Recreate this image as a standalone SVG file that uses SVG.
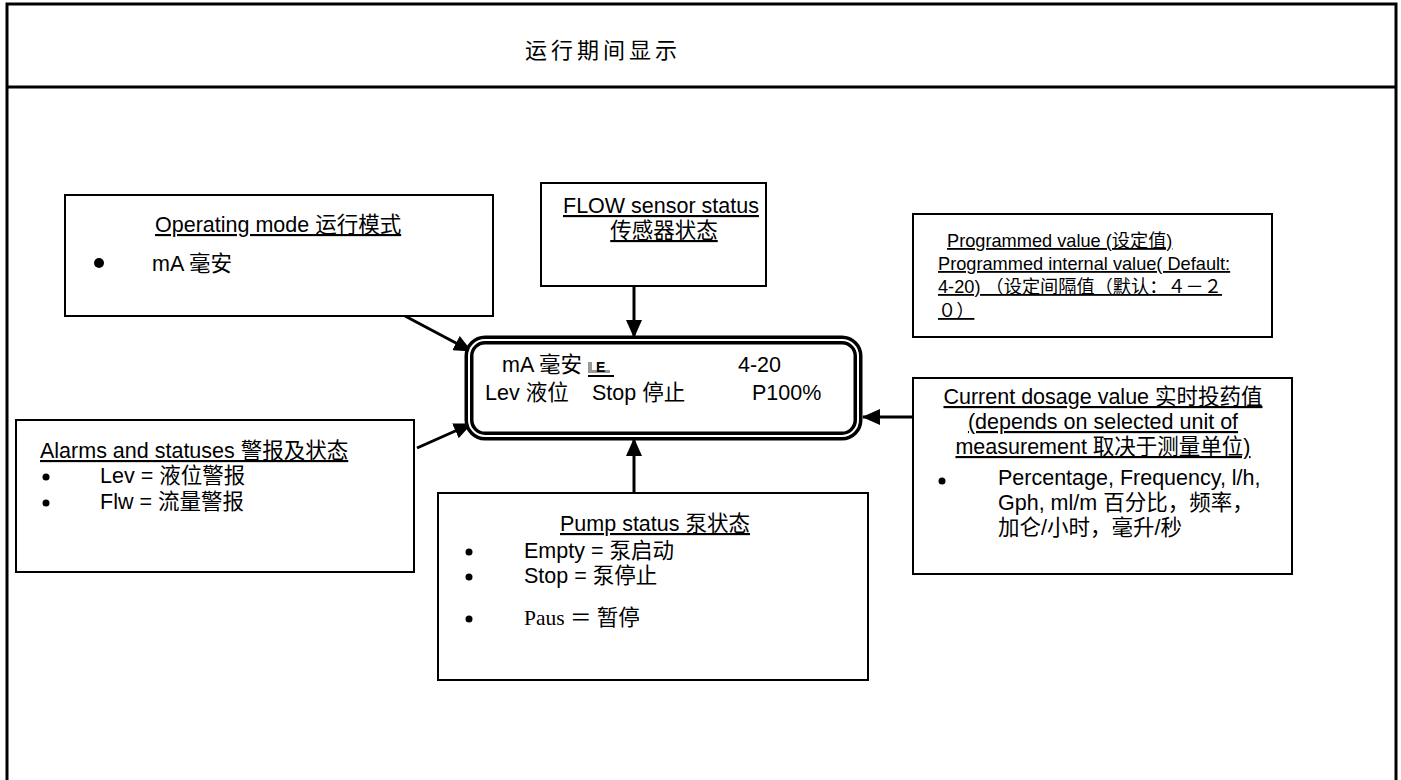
<svg xmlns="http://www.w3.org/2000/svg" width="1401" height="780" viewBox="0 0 1401 780">
<style>
  .t { font-family: "Liberation Sans", "Noto Sans CJK SC", sans-serif; font-size: 21.5px; fill: #000; }
  .s { font-family: "Liberation Sans", "Noto Sans CJK SC", sans-serif; font-size: 18.2px; fill: #000; }
  .serif { font-family: "Liberation Serif", "Noto Sans CJK SC", serif; font-size: 21.5px; fill: #000; }
  .u { text-decoration: underline; }
  .box { fill: #fff; stroke: #000; stroke-width: 2; }
  .conn { stroke: #000; stroke-width: 3; fill: none; marker-end: url(#ah); }
</style>
<defs>
  <marker id="ah" markerUnits="userSpaceOnUse" markerWidth="18" markerHeight="16" viewBox="0 0 18 16" refX="17" refY="8" orient="auto">
    <path d="M0,0 L18,8 L0,16 Z" fill="#000"/>
  </marker>
</defs>
<rect width="1401" height="780" fill="#fff"/>
<g id="frame">
  <path d="M7,800 L7,4 L1396,4 L1396,800" fill="none" stroke="#000" stroke-width="3"/>
  <line x1="7" y1="87" x2="1396" y2="87" stroke="#000" stroke-width="3"/>
  <text x="525" y="58" font-family="Noto Sans CJK SC, sans-serif" font-size="22" letter-spacing="4">运行期间显示</text>
</g>
<g id="connectors">
  <line class="conn" x1="405" y1="316" x2="471" y2="351"/>
  <line class="conn" x1="634" y1="286" x2="634" y2="337"/>
  <line class="conn" x1="417" y1="448" x2="471" y2="424"/>
  <line class="conn" x1="634" y1="493" x2="634" y2="439"/>
  <line class="conn" x1="920" y1="417" x2="863" y2="417"/>
</g>
<g id="operating-mode">
  <rect class="box" x="65" y="195" width="428" height="121"/>
  <text class="t u" x="155" y="232">Operating mode 运行模式</text>
  <circle cx="99" cy="263" r="5"/>
  <text class="t" x="152" y="271">mA 毫安</text>
</g>
<g id="flow-sensor">
  <rect class="box" x="541" y="183" width="225" height="103"/>
  <text class="t u" x="661" y="213" text-anchor="middle" font-size="21">FLOW sensor status</text>
  <text class="t u" x="664" y="238" text-anchor="middle" font-size="21">传感器状态</text>
</g>
<g id="programmed-value">
  <rect class="box" x="913" y="214" width="359" height="123"/>
  <text class="s u" x="947" y="247">Programmed value (设定值)</text>
  <text class="s u" x="938" y="270">Programmed internal value( Default:</text>
  <text class="s u" x="938" y="293">4-20) （设定间隔值（默认：４－２</text>
  <text class="s u" x="938" y="317">０）</text>
</g>
<g id="display">
  <rect x="469" y="340" width="389" height="96" rx="16" fill="#fff" stroke="#000" stroke-width="9"/>
  <rect x="469" y="340" width="389" height="96" rx="16" fill="none" stroke="#fff" stroke-width="2"/>
  <text class="t" x="502" y="372">mA 毫安</text>
  <rect x="588" y="362" width="4" height="11" fill="#999"/>
  <rect x="588" y="370" width="22" height="3" fill="#999"/>
  <text x="596" y="372" font-family="Liberation Sans, sans-serif" font-size="14" font-weight="bold">E</text>
  <line x1="588" y1="376" x2="614" y2="376" stroke="#000" stroke-width="2"/>
  <text class="t" x="738" y="372">4-20</text>
  <text class="t" x="485" y="400">Lev 液位</text>
  <text class="t" x="592" y="400">Stop 停止</text>
  <text class="t" x="752" y="400">P100%</text>
</g>
<g id="alarms">
  <rect class="box" x="16" y="420" width="398" height="152"/>
  <text class="t u" x="40" y="458">Alarms and statuses 警报及状态</text>
  <circle cx="46" cy="477" r="3.5"/>
  <text class="t" x="100" y="483">Lev = 液位警报</text>
  <circle cx="46" cy="503" r="3.5"/>
  <text class="t" x="100" y="509">Flw = 流量警报</text>
</g>
<g id="pump-status">
  <rect class="box" x="438" y="493" width="430" height="187"/>
  <text class="t u" x="655" y="531" text-anchor="middle">Pump status 泵状态</text>
  <circle cx="469" cy="552" r="3.5"/>
  <text class="t" x="524" y="558">Empty = 泵启动</text>
  <circle cx="469" cy="577" r="3.5"/>
  <text class="t" x="524" y="583">Stop = 泵停止</text>
  <circle cx="469" cy="619" r="3.5"/>
  <text class="serif" x="524" y="625">Paus ＝ 暂停</text>
</g>
<g id="dosage">
  <rect class="box" x="913" y="378" width="379" height="196"/>
  <text class="t u" x="1103" y="404" text-anchor="middle">Current dosage value 实时投药值</text>
  <text class="t u" x="1103" y="429" text-anchor="middle">(depends on selected unit of</text>
  <text class="t u" x="1103" y="454" text-anchor="middle">measurement 取决于测量单位)</text>
  <circle cx="942" cy="481" r="3.5"/>
  <text class="t" x="998" y="485">Percentage, Frequency, l/h,</text>
  <text class="t" x="998" y="510">Gph, ml/m 百分比，频率，</text>
  <text class="t" x="998" y="535">加仑/小时，毫升/秒</text>
</g>
</svg>
